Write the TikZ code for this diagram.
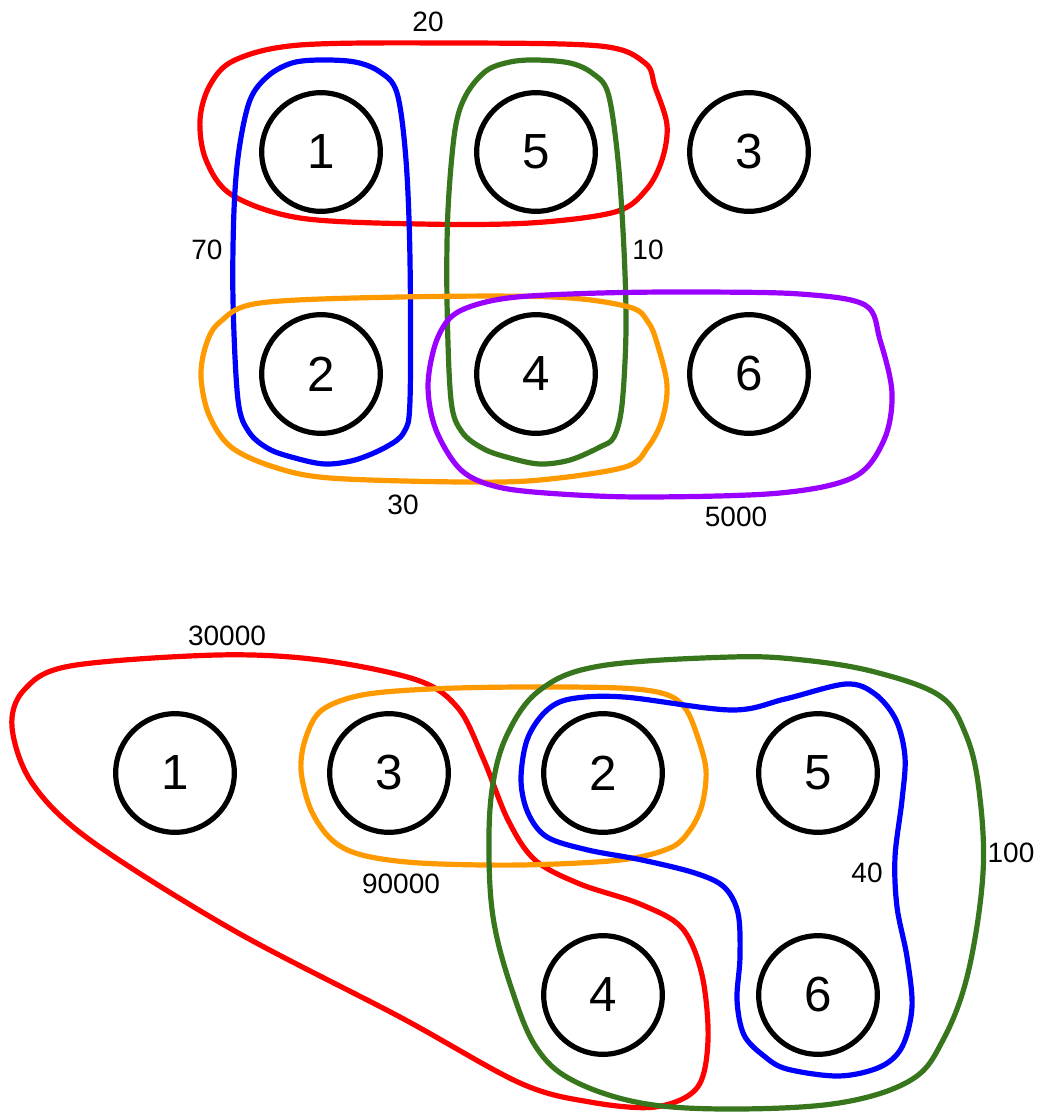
\documentclass[tikz,border=0pt]{standalone}
\usepackage{fontspec}
\setmainfont{Liberation Sans}
\definecolor{hred}{HTML}{FF0000}
\definecolor{hblue}{HTML}{0000FF}
\definecolor{hgreen}{HTML}{38761D}
\definecolor{horange}{HTML}{FF9900}
\definecolor{hpurple}{HTML}{9900FF}
\begin{document}
\begin{tikzpicture}[x=0.75pt,y=-0.75pt,
  vtx/.style={circle,draw=black,line width=3.9pt,minimum size=89pt,inner sep=0pt,font=\fontsize{37}{37}\selectfont},
  edge/.style={line width=3.9pt,line join=round},
  lbl/.style={inner sep=0pt,font=\fontsize{21}{21}\selectfont},
  hy/.style={smooth cycle,tension=0.55}]
\useasboundingbox (0,0) rectangle (1039,1113);
% ---------- top hypergraph ----------
\node[vtx] (t1) at (321,152) {1};
\node[vtx] (t5) at (536,152) {5};
\node[vtx] (t3) at (749,152) {3};
\node[vtx] (t2) at (321,374) {2};
\node[vtx] (t4) at (536,374) {4};
\node[vtx] (t6) at (749,374) {6};
% red {1,5}
\draw[edge,hred] plot[hy] coordinates {(300,45) (450,43) (600,46) (645,63) (655,87) (667,125) (662,160) (646,190) (615,212) (530,223) (420,224) (300,218) (232,195) (206,160) (200,120) (210,85) (235,60)};
% blue {1,2}
\draw[edge,hblue] plot[hy] coordinates {(320,60) (355,62) (380,72) (397,93) (406,160) (410,260) (410,400) (404,432) (386,447) (355,460) (325,464) (295,458) (269,449) (249,432) (238,400) (233,300) (234,210) (239,150) (250,100) (268,76) (292,63)};
% green {5,4}
\draw[edge,hgreen] plot[hy] coordinates {(536,60) (570,63) (592,73) (608,93) (618,160) (624,250) (626,330) (622,405) (614,437) (600,447) (570,460) (540,464) (510,458) (484,449) (462,432) (451,400) (447,300) (448,210) (455,130) (466,95) (486,71) (510,62)};
% orange {2,4}
\draw[edge,horange] plot[hy] coordinates {(400,297) (554,297) (629,307) (648,322) (657,343) (667,385) (662,420) (648,447) (625,467) (540,480) (461,482) (330,478) (274,467) (231,447) (209,415) (201,377) (206,345) (220,322) (260,303)};
% purple {4,6}
\draw[edge,hpurple] plot[hy] coordinates {(517,297) (600,293) (695,292) (800,294) (865,305) (880,340) (892,393) (884,440) (854,477) (780,493) (648,497) (560,494) (498,487) (461,470) (436,430) (428,387) (435,345) (450,318) (475,305)};
\node[lbl] (l20) at (428,22) {20};
\node[lbl] (l70) at (207,250) {70};
\node[lbl] (l10) at (648,250) {10};
\node[lbl] (l30) at (403,505) {30};
\node[lbl] (l5000) at (736,517) {5000};
% ---------- bottom hypergraph ----------
\node[vtx] (b1) at (175,773) {1};
\node[vtx] (b3) at (389,773) {3};
\node[vtx] (b2) at (603,773) {2};
\node[vtx] (b5) at (818,773) {5};
\node[vtx] (b4) at (603,995) {4};
\node[vtx] (b6) at (818,995) {6};
% red {1,3,4}
\draw[edge,hred] plot[hy] coordinates {(217,655) (320,660) (417,680) (458,708) (483,758) (508,820) (535,860) (580,884) (640,904) (682,928) (702,975) (708,1040) (697,1088) (655,1107) (590,1102) (520,1083) (400,1017) (233,930) (90,840) (32,783) (12,727) (24,690) (70,666)};
% orange {3,2}
\draw[edge,horange] plot[hy] coordinates {(520,687) (620,688) (665,694) (685,708) (697,735) (706,770) (702,805) (690,830) (670,848) (620,860) (520,865) (420,863) (362,855) (332,840) (311,810) (301,770) (306,737) (322,710) (362,695) (430,689)};
% blue {2,5,6}
\draw[edge,hblue] plot[hy] coordinates {(570,699) (624,697) (731,710) (785,699) (846,684) (875,694) (896,720) (905,757) (902,800) (895,857) (897,907) (907,957) (912,1007) (902,1047) (880,1067) (839,1076) (787,1069) (764,1056) (744,1035) (737,1000) (740,957) (738,913) (724,887) (695,873) (642,860) (588,850) (547,837) (528,813) (521,780) (527,740) (545,712)};
% green {2,5,4,6}
\draw[edge,hgreen] plot[smooth cycle,tension=0.6] coordinates {(731,657) (803,660) (875,672) (940,696) (966,735) (979,790) (983,873) (968,973) (943,1040) (911,1080) (839,1103) (731,1109) (641,1103) (572,1080) (536,1047) (512,990) (494,923) (489,857) (492,790) (507,735) (540,690) (600,666)};
\node[lbl] (l30000) at (227,636) {30000};
\node[lbl] (l90000) at (401,884) {90000};
\node[lbl] (l40) at (867,873) {40};
\node[lbl] (l100) at (1011,853) {100};
\end{tikzpicture}
\end{document}
